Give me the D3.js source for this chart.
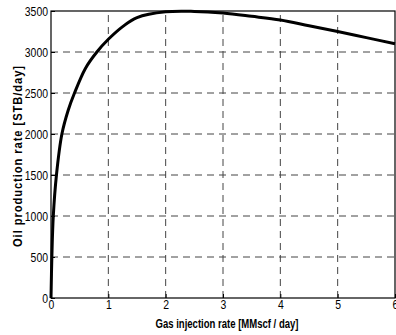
<!DOCTYPE html>
<html>
<head>
<meta charset="utf-8">
<script src="https://cdn.jsdelivr.net/npm/d3@7"></script>
<style>
  body { margin: 0; background: #fff; }
  svg { display: block; }
  .tick text { font-family: "Liberation Sans Narrow", "Liberation Sans", Arial, sans-serif; font-size: 13px; fill: #000; }
</style>
</head>
<body>
<script>
// gas injection rate (MMscf/day) vs oil production rate (STB/day)
const gasRate = [0, 0.015, 0.04, 0.095, 0.19, 0.3, 0.41, 0.6, 0.8, 1.0, 1.25, 1.5, 2.0, 2.5, 3.0, 3.5, 4.0, 4.5, 5.0, 5.5, 6.0]
const oilRate = [0, 500, 1000, 1500, 2000, 2290, 2500, 2800, 3000, 3155, 3310, 3420, 3490, 3495, 3475, 3435, 3390, 3320, 3250, 3175, 3100]
const xTicks = [0, 1, 2, 3, 4, 5, 6]
const yTicks = [0, 500, 1000, 1500, 2000, 2500, 3000, 3500]

const w = 396, h = 335
const m = { left: 51, right: 1, top: 11, bottom: 37 }

const svg = d3.select("body").append("svg")
  .attr("width", w)
  .attr("height", h)

const xScale = d3.scaleLinear().domain([0, 6]).range([m.left, w - m.right])
const yScale = d3.scaleLinear().domain([0, 3500]).range([h - m.bottom, m.top])

// grid
svg.append("g").selectAll("line.vg")
  .data(xTicks.slice(1, -1))
  .enter().append("line")
  .attr("x1", d => xScale(d)).attr("x2", d => xScale(d))
  .attr("y1", yScale(0)).attr("y2", yScale(3500))
  .attr("stroke", "#444").attr("stroke-width", 1)
  .attr("stroke-dasharray", "7,5")

svg.append("g").selectAll("line.hg")
  .data(yTicks.slice(1, -1))
  .enter().append("line")
  .attr("x1", xScale(0)).attr("x2", xScale(6))
  .attr("y1", d => yScale(d)).attr("y2", d => yScale(d))
  .attr("stroke", "#444").attr("stroke-width", 1)
  .attr("stroke-dasharray", "7,5")

// axes
const xAxis = d3.axisBottom(xScale).tickValues(xTicks).tickSize(-4).tickPadding(2).tickFormat(d3.format("d"))
const yAxis = d3.axisLeft(yScale).tickValues(yTicks).tickSize(-4).tickPadding(3).tickFormat(d3.format("d"))

// squeeze tick digits to look like a narrow font
const narrow = sel => sel.selectAll(".tick text")
  .attr("textLength", function () { return this.textContent.length * 5.8 })
  .attr("lengthAdjust", "spacingAndGlyphs")

svg.append("g")
  .attr("transform", "translate(0," + yScale(0) + ")")
  .call(xAxis)
  .call(g => g.select(".domain").remove())
  .call(narrow)

svg.append("g")
  .attr("transform", "translate(" + xScale(0) + ",0)")
  .call(yAxis)
  .call(g => g.select(".domain").remove())
  .call(narrow)

// frame
svg.append("rect")
  .attr("x", xScale(0)).attr("y", yScale(3500))
  .attr("width", xScale(6) - xScale(0))
  .attr("height", yScale(0) - yScale(3500))
  .attr("fill", "none").attr("stroke", "#000").attr("stroke-width", 1.2)

// curve
const line = d3.line()
  .x((d, i) => xScale(gasRate[i]))
  .y(d => yScale(d))
  .curve(d3.curveCatmullRom.alpha(0.5))

svg.append("path")
  .datum(oilRate)
  .attr("d", line)
  .attr("fill", "none")
  .attr("stroke", "#000")
  .attr("stroke-width", 3)

// labels
svg.append("text")
  .attr("x", 227).attr("y", 328)
  .attr("text-anchor", "middle")
  .attr("textLength", 143)
  .attr("lengthAdjust", "spacingAndGlyphs")
  .style("font-family", "'Liberation Sans', Arial, sans-serif")
  .style("font-weight", "bold")
  .style("font-size", "12px")
  .text("Gas injection rate [MMscf / day]")

svg.append("text")
  .attr("transform", "translate(22,156) rotate(-90)")
  .attr("text-anchor", "middle")
  .attr("textLength", 182)
  .attr("lengthAdjust", "spacingAndGlyphs")
  .style("font-family", "'Liberation Sans', Arial, sans-serif")
  .style("font-weight", "bold")
  .style("font-size", "12px")
  .style("letter-spacing", "1px")
  .text("Oil production rate [STB/day]")
</script>
</body>
</html>
